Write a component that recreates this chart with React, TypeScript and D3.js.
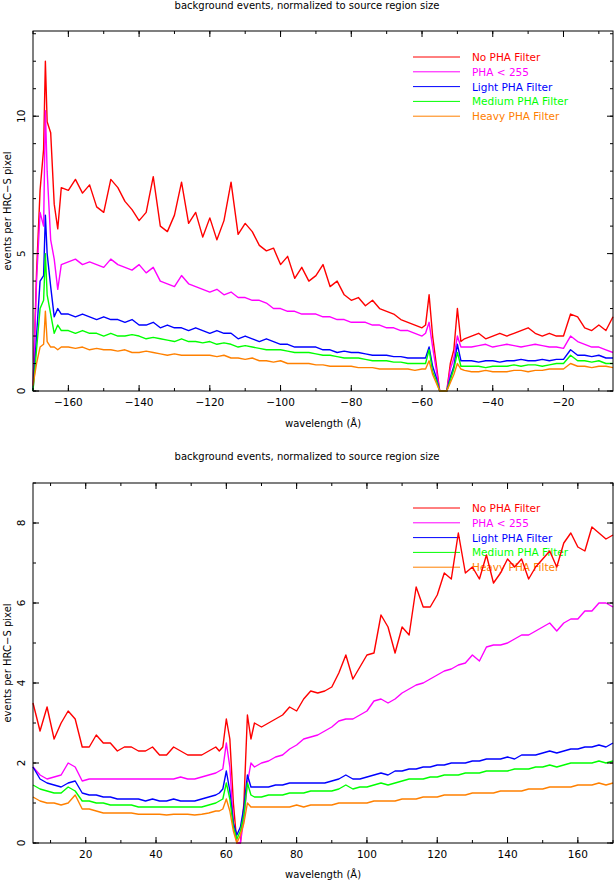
import React from "react";
import * as d3 from "d3";

const legendLabels = ["No PHA Filter", "PHA < 255", "Light PHA Filter", "Medium PHA Filter", "Heavy PHA Filter"];
const colors = ["#ff0000", "#ff00ff", "#0000ff", "#00ff00", "#ff8000"];

const xTop = [-170, -169, -168, -167, -166.5, -166, -165, -164, -163, -162,
  -160, -158, -156, -154, -152, -150, -148, -146, -144, -142, -140, -138, -136, -134, -132, -130, -128, -126, -124, -122,
  -120, -118, -116, -114, -112, -110, -108, -106, -104, -102, -100, -98, -96, -94, -92, -90, -88, -86, -84, -82,
  -80, -78, -76, -74, -72, -70, -68, -66, -64, -62, -60,
  -59, -58, -57, -56, -55, -54, -53, -52, -51, -50, -49, -48,
  -46, -44, -42, -40, -38, -36, -34, -32, -30, -28, -26, -24, -22, -20, -18, -16, -14, -12, -10, -8, -6];

const redTop = [0, 4.3, 7.3, 8.8, 12.0, 9.8, 9.4, 6.8, 5.9, 7.4,
  7.3, 7.7, 7.2, 7.5, 6.7, 6.5, 7.7, 7.4, 6.9, 6.6, 6.2, 6.5, 7.8, 6.0, 5.8, 6.4, 7.6, 6.1, 6.5, 5.6,
  6.3, 5.5, 6.2, 7.6, 5.7, 6.1, 5.8, 5.3, 5.1, 5.2, 4.6, 4.9, 4.1, 4.5, 4.0, 4.2, 4.6, 3.8, 4.0, 3.5,
  3.3, 3.4, 3.1, 3.3, 3.0, 2.9, 2.8, 2.6, 2.5, 2.4, 2.3,
  2.4, 3.5, 2.0, 1.0, 0, 0, 0, 1.0, 1.5, 3.0, 1.8, 1.9,
  2.0, 2.1, 1.9, 2.0, 2.1, 2.0, 2.1, 2.2, 2.3, 2.1, 2.0, 2.1, 2.0, 2.0, 2.8, 2.7, 2.3, 2.2, 2.4, 2.2, 2.7];
const pinkTop = [0, 4.0, 6.5, 6.0, 10.2, 8.0, 5.5, 4.8, 3.7, 4.6,
  4.7, 4.8, 4.6, 4.7, 4.6, 4.5, 4.8, 4.6, 4.5, 4.4, 4.6, 4.3, 4.5, 4.0, 3.9, 3.8, 4.2, 3.9, 3.8, 3.7,
  3.6, 3.7, 3.5, 3.6, 3.4, 3.4, 3.3, 3.3, 3.2, 3.0, 3.0, 2.9, 2.9, 2.8, 2.8, 2.8, 2.7, 2.7, 2.6, 2.6,
  2.5, 2.5, 2.5, 2.4, 2.4, 2.3, 2.3, 2.2, 2.2, 2.1, 2.0,
  2.1, 2.5, 1.6, 0.8, 0, 0, 0, 0.8, 1.2, 2.0, 1.6, 1.6,
  1.6, 1.65, 1.7, 1.6, 1.65, 1.7, 1.65, 1.6, 1.65, 1.7, 1.65, 1.6, 1.6, 1.55, 2.0, 1.8, 1.7, 1.6, 1.6, 1.5, 1.4];
const blueTop = [0, 2.0, 4.0, 4.2, 6.4, 5.0, 3.8, 2.7, 3.0, 2.8,
  2.8, 2.7, 2.8, 2.7, 2.6, 2.7, 2.6, 2.6, 2.5, 2.6, 2.4, 2.4, 2.5, 2.3, 2.4, 2.3, 2.3, 2.2, 2.3, 2.2,
  2.1, 2.2, 2.1, 2.1, 1.9, 2.0, 1.9, 1.8, 1.9, 1.8, 1.7, 1.7, 1.6, 1.6, 1.6, 1.6, 1.5, 1.5, 1.4, 1.45,
  1.4, 1.4, 1.35, 1.3, 1.3, 1.3, 1.25, 1.25, 1.2, 1.2, 1.2,
  1.2, 1.6, 0.9, 0.5, 0, 0, 0, 0.5, 0.9, 1.7, 1.1, 1.1,
  1.1, 1.05, 1.1, 1.1, 1.05, 1.1, 1.1, 1.15, 1.1, 1.1, 1.15, 1.1, 1.15, 1.15, 1.5, 1.3, 1.3, 1.25, 1.3, 1.2, 1.2];
const greenTop = [0, 1.5, 3.0, 3.3, 5.0, 3.5, 2.8, 2.1, 2.4, 2.2,
  2.2, 2.1, 2.2, 2.1, 2.1, 2.0, 2.1, 2.0, 2.0, 2.05, 2.0, 1.9, 1.95, 1.9, 1.85, 1.8, 1.9, 1.8, 1.8, 1.75,
  1.8, 1.7, 1.75, 1.7, 1.6, 1.65, 1.6, 1.55, 1.5, 1.5, 1.5, 1.45, 1.4, 1.4, 1.4, 1.35, 1.3, 1.3, 1.25, 1.2,
  1.2, 1.2, 1.15, 1.1, 1.1, 1.1, 1.05, 1.05, 1.0, 1.0, 1.0,
  1.0, 1.5, 0.7, 0.4, 0, 0, 0, 0.4, 0.8, 1.4, 0.9, 0.9,
  0.9, 0.9, 0.85, 0.9, 0.9, 0.9, 0.95, 0.9, 0.95, 0.95, 0.9, 0.95, 1.0, 1.0, 1.3, 1.1, 1.1, 1.05, 1.1, 1.0, 1.0];
const orangeTop = [0.2, 1.0, 1.6, 1.7, 2.9, 1.8, 1.6, 1.6, 1.5, 1.6,
  1.6, 1.55, 1.6, 1.5, 1.55, 1.5, 1.5, 1.45, 1.5, 1.4, 1.4, 1.45, 1.4, 1.35, 1.3, 1.35, 1.3, 1.3, 1.3, 1.3,
  1.3, 1.25, 1.3, 1.2, 1.2, 1.15, 1.2, 1.1, 1.1, 1.05, 1.1, 1.0, 1.0, 1.0, 1.0, 0.95, 0.95, 0.9, 0.9, 0.9,
  0.9, 0.85, 0.85, 0.85, 0.8, 0.8, 0.8, 0.8, 0.8, 0.75, 0.8,
  0.8, 1.1, 0.6, 0.3, 0, 0, 0, 0.3, 0.6, 1.0, 0.8, 0.75,
  0.7, 0.7, 0.75, 0.7, 0.7, 0.7, 0.75, 0.75, 0.7, 0.75, 0.75, 0.8, 0.8, 0.8, 1.0, 0.9, 0.9, 0.85, 0.9, 0.9, 0.85];

const xBottom = [5, 7, 9, 11, 13, 15, 17, 19, 21, 23, 25, 27, 29, 31, 33, 35, 37, 39, 41, 43, 45, 47, 49, 51, 53, 55, 57,
  58, 59, 60, 61, 62, 63, 64, 65, 66, 67, 68,
  70, 72, 74, 76, 78, 80, 82, 84, 86, 88, 90, 92, 94, 96, 98, 100, 102, 104, 106, 108, 110, 112, 114, 116, 118, 120,
  122, 124, 126, 128, 130, 132, 134, 136, 138, 140, 142, 144, 146, 148, 150, 152, 154, 156, 158, 160, 162, 164, 166, 168, 170];

const redBottom = [3.5, 2.8, 3.4, 2.6, 3.0, 3.3, 3.1, 2.4, 2.4, 2.7, 2.5, 2.5, 2.3, 2.4, 2.4, 2.3, 2.3, 2.4, 2.2, 2.2, 2.4, 2.3, 2.2, 2.2, 2.2, 2.3, 2.4,
  2.3, 2.4, 3.1, 2.6, 1.0, 0, 0, 1.0, 3.2, 2.6, 3.0,
  2.9, 3.0, 3.1, 3.2, 3.4, 3.3, 3.6, 3.8, 3.75, 3.8, 3.9, 4.25, 4.7, 4.1, 4.4, 4.7, 4.75, 5.7, 5.4, 4.75, 5.4, 5.2, 6.4, 5.9, 5.9, 6.2,
  6.75, 6.6, 7.75, 6.75, 6.9, 6.6, 7.2, 6.5, 6.75, 7.1, 6.9, 7.1, 6.6, 6.9, 7.1, 7.3, 6.9, 7.5, 7.75, 7.4, 7.3, 7.9, 7.75, 7.6, 7.7];
const pinkBottom = [1.9, 1.7, 1.6, 1.65, 1.7, 2.0, 1.9, 1.55, 1.6, 1.6, 1.6, 1.6, 1.6, 1.6, 1.6, 1.6, 1.6, 1.6, 1.6, 1.6, 1.6, 1.65, 1.6, 1.6, 1.65, 1.7, 1.75,
  1.8, 1.85, 2.5, 1.9, 0.5, 0, 0, 0.6, 1.5, 2.0, 1.9,
  2.0, 2.05, 2.15, 2.2, 2.35, 2.45, 2.6, 2.65, 2.7, 2.8, 2.9, 3.05, 3.1, 3.1, 3.2, 3.3, 3.55, 3.6, 3.5, 3.6, 3.75, 3.85, 3.95, 4.0, 4.1, 4.2,
  4.3, 4.35, 4.45, 4.5, 4.7, 4.55, 4.9, 4.95, 4.95, 5.0, 5.1, 5.2, 5.2, 5.3, 5.4, 5.5, 5.3, 5.5, 5.6, 5.6, 5.8, 5.8, 6.0, 6.0, 5.9];
const blueBottom = [1.9, 1.6, 1.5, 1.45, 1.4, 1.5, 1.55, 1.25, 1.2, 1.2, 1.15, 1.15, 1.1, 1.1, 1.1, 1.1, 1.05, 1.1, 1.05, 1.05, 1.1, 1.05, 1.05, 1.05, 1.1, 1.15, 1.2,
  1.25, 1.35, 1.8, 1.3, 0.5, 0.2, 0.4, 0.9, 1.7, 1.4, 1.4,
  1.4, 1.4, 1.45, 1.45, 1.5, 1.5, 1.5, 1.5, 1.5, 1.5, 1.55, 1.6, 1.7, 1.6, 1.6, 1.65, 1.7, 1.75, 1.7, 1.8, 1.8, 1.85, 1.85, 1.9, 1.9, 1.95,
  1.95, 2.0, 2.0, 2.0, 2.05, 2.05, 2.1, 2.1, 2.1, 2.15, 2.1, 2.2, 2.2, 2.2, 2.25, 2.3, 2.25, 2.3, 2.35, 2.35, 2.4, 2.4, 2.45, 2.4, 2.5];
const greenBottom = [1.45, 1.35, 1.3, 1.25, 1.25, 1.4, 1.3, 1.05, 1.05, 1.0, 1.0, 0.95, 0.95, 0.95, 0.95, 0.9, 0.9, 0.9, 0.9, 0.9, 0.9, 0.9, 0.9, 0.9, 0.9, 0.95, 1.0,
  1.05, 1.1, 1.5, 1.1, 0.4, 0.1, 0.3, 0.7, 1.5, 1.2, 1.15,
  1.15, 1.2, 1.2, 1.2, 1.25, 1.25, 1.25, 1.3, 1.3, 1.3, 1.3, 1.35, 1.45, 1.35, 1.4, 1.4, 1.45, 1.5, 1.45, 1.5, 1.55, 1.6, 1.6, 1.6, 1.65, 1.65,
  1.7, 1.7, 1.7, 1.75, 1.75, 1.75, 1.8, 1.8, 1.8, 1.8, 1.85, 1.85, 1.85, 1.9, 1.9, 1.95, 1.9, 1.95, 2.0, 2.0, 2.0, 2.0, 2.05, 2.0, 2.05];
const orangeBottom = [1.15, 1.05, 1.0, 1.0, 0.95, 1.0, 1.2, 0.85, 0.85, 0.8, 0.75, 0.75, 0.75, 0.75, 0.75, 0.72, 0.72, 0.72, 0.72, 0.7, 0.72, 0.72, 0.72, 0.7, 0.72, 0.75, 0.8,
  0.8, 0.85, 1.1, 0.8, 0.3, 0, 0.2, 0.5, 1.0, 0.9, 0.9,
  0.9, 0.9, 0.9, 0.9, 0.9, 0.95, 0.9, 0.95, 0.95, 0.95, 0.95, 1.0, 1.0, 1.0, 1.0, 1.0, 1.05, 1.05, 1.05, 1.05, 1.1, 1.1, 1.1, 1.15, 1.15, 1.15,
  1.2, 1.2, 1.2, 1.2, 1.25, 1.25, 1.25, 1.25, 1.3, 1.3, 1.3, 1.3, 1.35, 1.35, 1.35, 1.4, 1.4, 1.4, 1.4, 1.45, 1.45, 1.45, 1.5, 1.45, 1.5];

const FONT = "'DejaVu Sans', sans-serif";

type PanelProps = {
  top: number; bottom: number; xDom: [number, number]; yDom: [number, number];
  xs: number[]; series: number[][]; xMajor: number; xMinor: number; yMajor: number; yMinor: number;
  titleY: number; xlabelY: number; legendY: number;
};

function Panel(p: PanelProps) {
  const left = 33, right = 613;
  const x = d3.scaleLinear().domain(p.xDom).range([left, right]);
  const y = d3.scaleLinear().domain(p.yDom).range([p.bottom, p.top]);
  const line = d3.line<[number, number]>().x(d => x(d[0])).y(d => y(d[1])).curve(d3.curveLinear);
  const xMaj = d3.range(Math.ceil(p.xDom[0] / p.xMajor) * p.xMajor, p.xDom[1] + 1e-9, p.xMajor);
  const xMin = d3.range(Math.ceil(p.xDom[0] / p.xMinor) * p.xMinor, p.xDom[1] + 1e-9, p.xMinor);
  const yMaj = d3.range(0, p.yDom[1] + 1e-9, p.yMajor);
  const yMin = d3.range(0, p.yDom[1] + 1e-9, p.yMinor);
  const tick = (k: string, x1: number, y1: number, x2: number, y2: number) =>
    <line key={k} x1={x1} y1={y1} x2={x2} y2={y2} stroke="#000" />;
  return (
    <g>
      <text x={307} y={p.titleY} fontSize={10} textAnchor="middle" fontFamily={FONT}>background events, normalized to source region size</text>
      {legendLabels.map((l, i) => (
        <g key={l}>
          <line x1={413} x2={460} y1={p.legendY + i * 14.8} y2={p.legendY + i * 14.8} stroke={colors[i]} />
          <text x={472} y={p.legendY + i * 14.8 + 4} fontSize={10.5} fill={colors[i]} fontFamily={FONT}>{l}</text>
        </g>
      ))}
      {p.series.map((s, i) => (
        <path key={i} d={line(p.xs.map((xv, j) => [xv, s[j]] as [number, number]).filter(d => d[1] !== undefined)) || ""}
          fill="none" stroke={colors[i]} strokeWidth={1.4} strokeLinejoin="round" />
      ))}
      <rect x={left} y={p.top} width={right - left} height={p.bottom - p.top} fill="none" stroke="#000" />
      {xMin.map(v => [tick("bm" + v, x(v), p.bottom, x(v), p.bottom - 3), tick("tm" + v, x(v), p.top, x(v), p.top + 3)])}
      {xMaj.map(v => [tick("bM" + v, x(v), p.bottom, x(v), p.bottom - 6), tick("tM" + v, x(v), p.top, x(v), p.top + 6)])}
      {yMin.map(v => [tick("lm" + v, left, y(v), left + 3, y(v)), tick("rm" + v, right, y(v), right - 3, y(v))])}
      {yMaj.map(v => [tick("lM" + v, left, y(v), left + 6, y(v)), tick("rM" + v, right, y(v), right - 6, y(v))])}
      {xMaj.map(v => (
        <text key={"xl" + v} x={x(v)} y={p.bottom + 15} fontSize={10.5} textAnchor="middle" fontFamily={FONT}>{v < 0 ? "\u2212" + (-v) : v}</text>
      ))}
      {yMaj.map(v => (
        <text key={"yl" + v} transform={`translate(25,${y(v)}) rotate(-90)`} fontSize={10.5} textAnchor="middle" fontFamily={FONT}>{v}</text>
      ))}
      <text transform={`translate(11,${(p.top + p.bottom) / 2}) rotate(-90)`} fontSize={10} textAnchor="middle" fontFamily={FONT}>events per HRC−S pixel</text>
      <text x={323} y={p.xlabelY} fontSize={10} textAnchor="middle" fontFamily={FONT}>wavelength (Å)</text>
    </g>
  );
}

export default function App() {
  return (
    <svg width={614} height={882} style={{ position: "absolute", left: 0, top: 0, background: "#fff" }}>
      <rect width={614} height={882} fill="#fff" />
      <Panel top={31} bottom={391} xDom={[-170, -6]} yDom={[0, 13.1]} xs={xTop}
        series={[redTop, pinkTop, blueTop, greenTop, orangeTop]} xMajor={20} xMinor={10} yMajor={5} yMinor={1}
        titleY={9} xlabelY={427} legendY={57} />
      <Panel top={483} bottom={843} xDom={[5, 170]} yDom={[0, 9]} xs={xBottom}
        series={[redBottom, pinkBottom, blueBottom, greenBottom, orangeBottom]} xMajor={20} xMinor={10} yMajor={2} yMinor={1}
        titleY={460} xlabelY={878} legendY={508} />
    </svg>
  );
}
